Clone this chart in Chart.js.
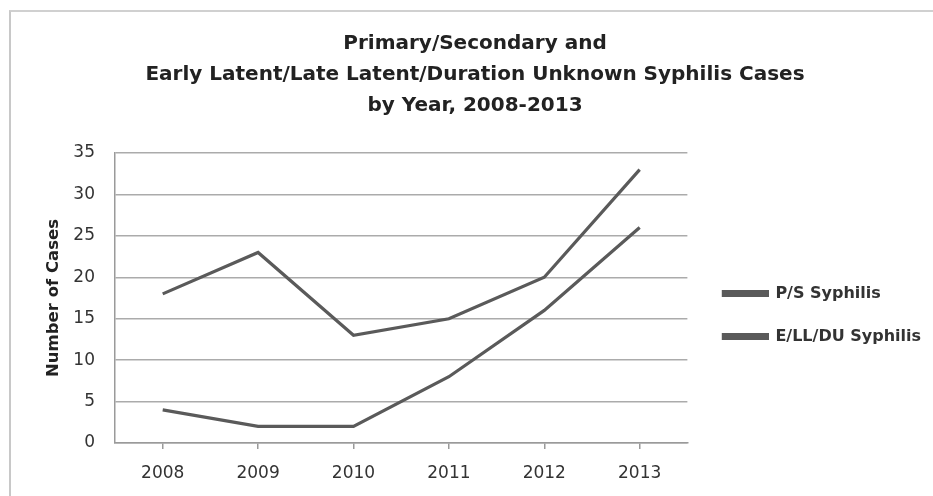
<!DOCTYPE html>
<html>
<head>
<meta charset="utf-8">
<script src="https://cdn.jsdelivr.net/npm/chart.js@4/dist/chart.umd.min.js"></script>
<style>
  html, body { margin: 0; padding: 0; background: #fff; }
  #wrap { position: relative; width: 933px; height: 496px; overflow: hidden; }
  #frame { position: absolute; left: 9px; top: 10px; right: -4px; bottom: -4px;
           border-top: 2px solid #d0d0d0; border-left: 2px solid #c8c8c8; }
  canvas { position: absolute; left: 0; top: 0; }
</style>
</head>
<body>
<div id="wrap">
  <div id="frame"></div>
  <canvas id="chart" width="933" height="496"></canvas>
</div>
<script>
// Reported syphilis cases per year
const years = ['2008', '2009', '2010', '2011', '2012', '2013'];
const psSyphilis = [4, 2, 2, 8, 16, 26];
const ellduSyphilis = [18, 23, 13, 15, 20, 33];
const seriesNames = ['P/S Syphilis', 'E/LL/DU Syphilis'];
const titleLines = [
  'Primary/Secondary and',
  'Early Latent/Late Latent/Duration Unknown Syphilis Cases',
  'by Year, 2008-2013'
];
const yAxisTitle = 'Number of Cases';

const lineColor = '#5a5a5a';
const tickFont = { family: 'DejaVu Sans', size: 17 };

new Chart(document.getElementById('chart'), {
  type: 'line',
  data: {
    labels: years,
    datasets: [
      { label: seriesNames[0], data: psSyphilis, borderColor: lineColor, backgroundColor: lineColor,
        borderWidth: 3.2, pointRadius: 0, tension: 0 },
      { label: seriesNames[1], data: ellduSyphilis, borderColor: lineColor, backgroundColor: lineColor,
        borderWidth: 3.2, pointRadius: 0, tension: 0 }
    ]
  },
  options: {
    responsive: false,
    animation: false,
    layout: { padding: { left: 19, right: 2, top: 0, bottom: 0 } },
    plugins: {
      tooltip: { enabled: false },
      title: {
        display: true,
        text: titleLines,
        color: '#222',
        font: { family: 'DejaVu Sans', size: 20, weight: 'bold', lineHeight: 31 / 20 },
        padding: { top: 28, bottom: 32 }
      },
      legend: {
        position: 'right',
        fullSize: false,
        maxWidth: 300,
        title: { display: true, text: '', padding: 0, font: { size: 28, lineHeight: 34 / 28 } },
        labels: {
          boxWidth: 44,
          boxHeight: 4,
          padding: 27,
          color: '#333',
          font: { family: 'DejaVu Sans', size: 16, weight: 'bold' }
        }
      }
    },
    scales: {
      x: {
        offset: true,
        afterFit: (scale) => { scale.height = 53; },
        grid: { display: true, drawOnChartArea: false, drawTicks: true, tickLength: 6,
                color: '#9a9a9a', lineWidth: 1.5, offset: false },
        border: { display: true, color: '#9a9a9a', width: 1.5 },
        ticks: { color: '#333', font: tickFont, padding: 14, maxRotation: 0 }
      },
      y: {
        min: 0,
        max: 35,
        afterFit: (scale) => { scale.width = 96; },
        grid: { color: '#ababab', lineWidth: 1.5, drawTicks: false },
        border: { display: true, color: '#9a9a9a', width: 1.5 },
        ticks: { stepSize: 5, color: '#333', font: tickFont, padding: 20 },
        title: {
          display: true,
          text: yAxisTitle,
          color: '#222',
          font: { family: 'DejaVu Sans', size: 16.5, weight: 'bold' },
          padding: { top: 25, bottom: 0 }
        }
      },
      // empty spacer between the plot and the legend
      gap: {
        axis: 'y',
        position: 'right',
        afterFit: (scale) => { scale.width = 9; },
        grid: { display: false },
        border: { display: false },
        ticks: { display: false }
      }
    }
  }
});
</script>
</body>
</html>
